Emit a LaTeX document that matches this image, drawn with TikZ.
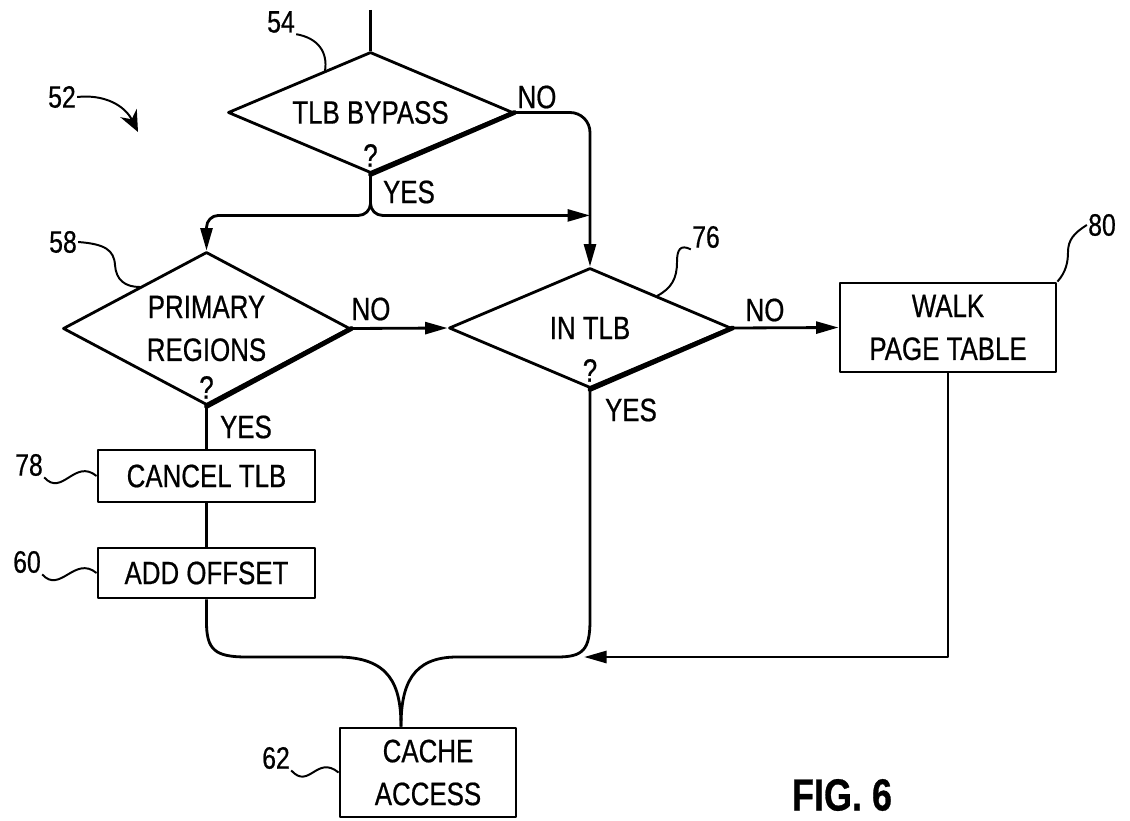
\documentclass[tikz,border=0pt]{standalone}
\usepackage{fontspec}
\setmainfont{Liberation Sans}[FakeStretch=0.8, FakeBold=0.6]
\usetikzlibrary{shapes.geometric,arrows.meta,calc}
\tikzset{
  decision/.style={diamond, draw, inner sep=0pt, align=center},
  process/.style={rectangle, draw, inner sep=0pt, align=center},
  tag/.style={inner sep=0pt, font=\fontsize{22}{26}\selectfont},
  flow/.style={-{Triangle[length=16pt,width=8.5pt]}},
  lead/.style={line width=1.4pt},
  heavy/.style={line width=3.4pt, line cap=round}
}
\begin{document}
\begin{tikzpicture}[x=0.025cm, y=-0.025cm, line width=2pt, line join=round, font=\fontsize{23}{30.5}\selectfont]
\useasboundingbox (0,0) rectangle (1130,821);
\node[decision, aspect=2.355, minimum width=7.125cm, minimum height=3.025cm] (bypass) at (370.5,112.5) {TLB BYPASS};
\node[decision, aspect=1.876, minimum width=7.175cm, minimum height=3.825cm] (primary) at (206.5,328.5) {PRIMARY\\REGIONS};
\node[decision, aspect=2.35, minimum width=7.05cm, minimum height=3cm] (intlb) at (590,328) {IN TLB};
\node[process, minimum width=5.425cm, minimum height=1.3cm] (cancel) at (206.5,476) {CANCEL TLB};
\node[process, minimum width=5.425cm, minimum height=1.25cm] (offset) at (206.5,573) {ADD OFFSET};
\node[process, minimum width=5.4cm, minimum height=2.225cm] (walk) at (948,327.5) {WALK\\PAGE TABLE};
\node[process, minimum width=4.4cm, minimum height=2.225cm] (cache) at (428,772.5) {CACHE\\ACCESS};
\foreach \d in {bypass,primary,intlb}{
  \draw[heavy] (\d.east) -- (\d.south);
  \node (q-\d) at ($(\d.south)+(0,-19)$) {?};
}
\node (no1) at (537,97) {NO};
\node[anchor=west] (yes1) at (377,192) {YES};
\node (no2) at (371,309) {NO};
\node[anchor=west] (yes2) at (214,427) {YES};
\node (no3) at (765,310) {NO};
\node[anchor=west] (yes3) at (599,410) {YES};
\node[font=\fontsize{32}{36}\selectfont\bfseries] (fig) at (842,795) {FIG. 6};
\node[tag] (t52) at (62,97) {52};
\node[tag] (t54) at (281,22) {54};
\node[tag] (t58) at (63,242) {58};
\node[tag] (t76) at (706,237) {76};
\node[tag] (t80) at (1102,225) {80};
\node[tag] (t78) at (29,465) {78};
\node[tag] (t60) at (27,562) {60};
\node[tag] (t62) at (276,758) {62};
\coordinate (top) at (370.5,10);
\coordinate (split) at ($(bypass.south)+(0,41)$);
\coordinate (cin) at ($(cache.north)+(-27,0)$);
\coordinate (back) at (584,657);
\draw (top) -- (bypass.north);
\draw[flow, rounded corners=0.5cm] (bypass.east) -| (intlb.north);
\draw[flow, rounded corners=0.3cm] (bypass.south) -- (split) -| (primary.north);
\draw[flow, rounded corners=0.3cm] (bypass.south) -- (split) -- (split -| intlb.north);
\draw[flow] (primary.east) -- (intlb.west);
\draw[flow] (intlb.east) -- (walk.west);
\draw (primary.south) -- (cancel.north);
\draw (cancel.south) -- (offset.north);
\draw (offset.south) -- (206.5,622) .. controls (206.5,650) and (215,657) .. (247,657) -- (337,657) .. controls (390,657) and (401,685) .. (cin);
\draw (intlb.south) -- (590,620) .. controls (590,650) and (583,657) .. (557,657) -- (457,657) .. controls (412,657) and (401,685) .. (cin);
\draw[flow] (walk.south) |- (back);
\draw[lead, -{Stealth[length=15pt,width=13pt]}] (t52.east) .. controls (105,94) and (125,106) .. (138,132);
\draw[lead] (t54.south east) .. controls (318,38) and (328,52) .. (325,71);
\draw[lead] (t58.east) .. controls (105,244) and (114,250) .. (115,265) .. controls (116,280) and (125,287) .. (140,287);
\draw[lead] (657,296) .. controls (672,288) and (677,278) .. (677,262) .. controls (677,250) and (680,244) .. (t76.south west);
\draw[lead] (walk.north east) .. controls (1066,272) and (1068,262) .. (1068,252) .. controls (1068,240) and (1074,233) .. (t80.west);
\foreach \t/\n in {t78/cancel,t60/offset,t62/cache}
  \draw[lead] (\t.south east) .. controls +(18,20) and +(-22,-18) .. (\n.west);
\end{tikzpicture}
\end{document}
